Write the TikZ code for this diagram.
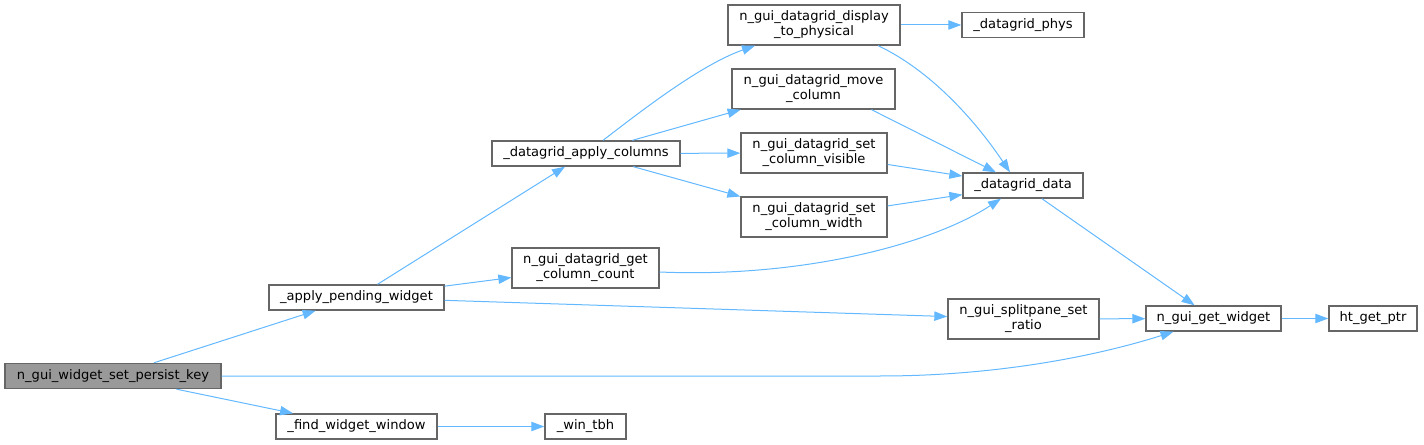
\documentclass[tikz,border=0pt]{standalone}
\usepackage{fontspec}
\setmainfont{DejaVu Sans}
\usetikzlibrary{arrows.meta,calc}
\definecolor{edgeblue}{HTML}{63B8FF}
\definecolor{boxgrey}{HTML}{666666}
\definecolor{keygrey}{HTML}{999999}

\begin{document}
\begin{tikzpicture}[x=0.75pt,y=-0.75pt]
 	\tikzset{every node/.append style={inner sep=0pt, font=\fontsize{9.8}{11.25}\selectfont},
 		fn/.style={draw=boxgrey, line width=1pt, fill=white, align=center, minimum width=#1*0.75pt, minimum height=18.75pt},
 		fntwo/.style={fn=#1, minimum height=30pt},
 		call/.style={edgeblue, line width=0.75pt, -{Triangle[length=9.75pt,width=7pt]}}}
 	\useasboundingbox (0,0) rectangle (1424,445);
 	\node [fn=216, fill=keygrey] (persist) at (113,376) {n\_gui\_widget\_set\_persist\_key};
 	\node [fn=175] (pending) at (356.5,297.5) {\_apply\_pending\_widget};
 	\node [fn=161] (findwin) at (356.5,426.5) {\_find\_widget\_window};
 	\node [fn=81] (wintbh) at (585.5,426.5) {\_win\_tbh};
 	\node [fn=188] (applycols) at (586,153.5) {\_datagrid\_apply\_columns};
 	\node [fntwo=147] (getcount) at (585.5,268) {n\_gui\_datagrid\_get\\\_column\_count};
 	\node [fntwo=172] (disp) at (814,25) {n\_gui\_datagrid\_display\\\_to\_physical};
 	\node [fntwo=163] (move) at (813.5,89) {n\_gui\_datagrid\_move\\\_column};
 	\node [fntwo=146] (visible) at (814,153) {n\_gui\_datagrid\_set\\\_column\_visible};
 	\node [fntwo=146] (width) at (814,217) {n\_gui\_datagrid\_set\\\_column\_width};
 	\node [fntwo=151] (split) at (1023.5,319) {n\_gui\_splitpane\_set\\\_ratio};
 	\node [fn=122] (phys) at (1023,25) {\_datagrid\_phys};
 	\node [fn=120] (data) at (1023,185.5) {\_datagrid\_data};
 	\node [fn=135] (getw) at (1213.5,318.5) {n\_gui\_get\_widget};
 	\node [fn=88] (htptr) at (1373,318.5) {ht\_get\_ptr};
 	\draw [call] (persist) -- (pending);
 	\draw [call] (persist.east) -- (880,376) .. controls (1000,376) and (1100,355) .. ($(getw.south)+(-40,0)$);
 	\draw [call] (persist) -- (findwin);
 	\draw [call] (findwin) -- (wintbh);
 	\draw [call] (pending) -- (applycols);
 	\draw [call] (pending) -- (getcount);
 	\draw [call] (pending) -- (split);
 	\draw [call] ($(applycols.north)+(17,0)$) .. controls (640,112) and (700,65) .. ($(disp.south)+(-59,0)$);
 	\draw [call] (applycols) -- (move);
 	\draw [call] (applycols) -- (visible);
 	\draw [call] (applycols) -- (width);
 	\draw [call] (disp) -- (phys);
 	\draw [call] ($(disp.south)+(64,0)$) .. controls (930,70) and (975,120) .. ($(data.north)+(-13,0)$);
 	\draw [call] ($(move.south)+(58,0)$) -- ($(data.north)+(-27,0)$);
 	\draw [call] (visible) -- (data);
 	\draw [call] (width) -- (data);
 	\draw [call] ($(getcount.east)+(0,4)$) .. controls (800,278) and (930,245) .. ($(data.south)+(-22,0)$);
 	\draw [call] (data) -- (getw);
 	\draw [call] (split) -- (getw);
 	\draw [call] (getw) -- (htptr);
\end{tikzpicture}
\end{document}
